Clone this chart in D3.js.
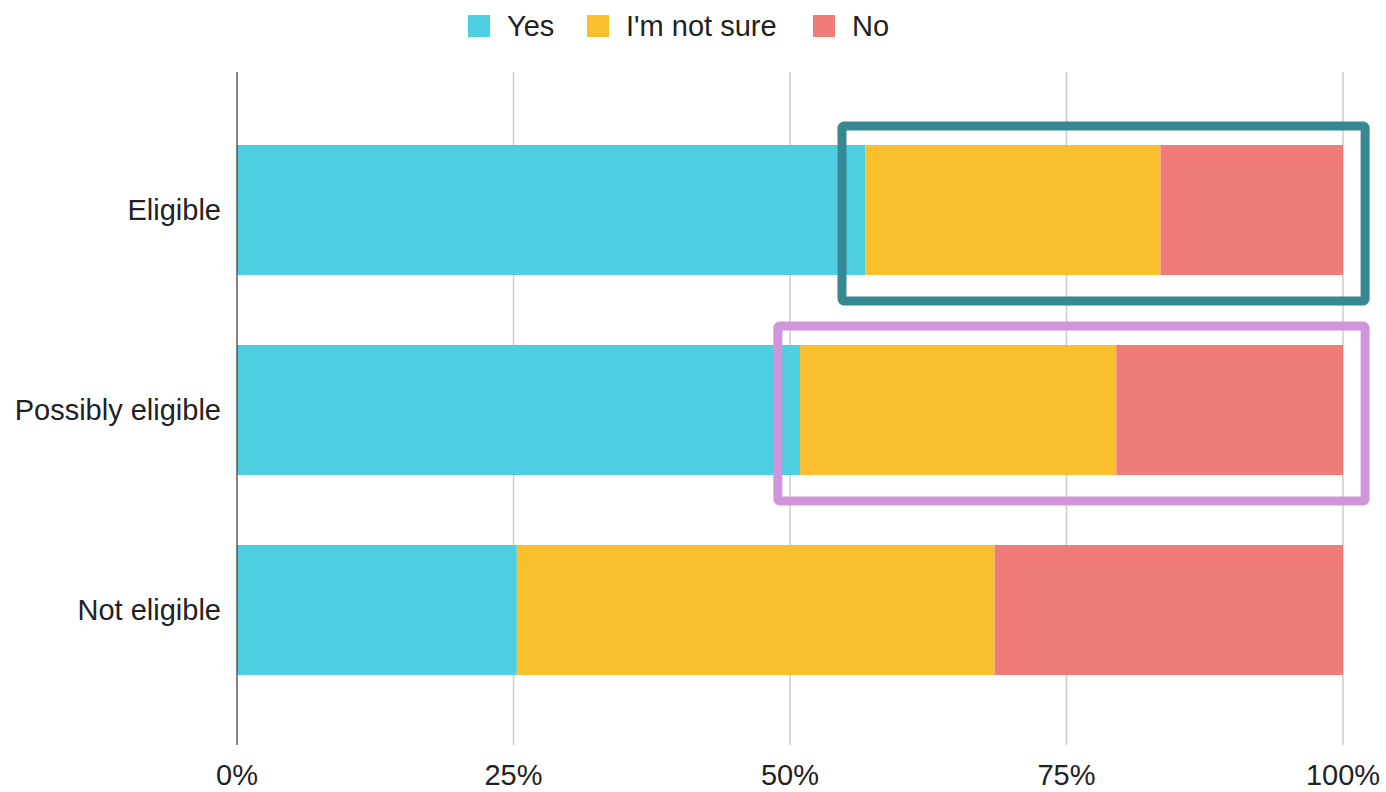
<!DOCTYPE html>
<html>
<head>
<meta charset="utf-8">
<script src="https://cdn.jsdelivr.net/npm/d3@7"></script>
<style>
  body { margin: 0; background: #fff; }
  svg text { font-family: "Liberation Sans", Arial, sans-serif; fill: #222; }
</style>
</head>
<body>
<svg width="1386" height="792"></svg>
<script>
// answer categories and their colours
var series = ["Yes", "I'm not sure", "No"];
var colors = ["#4dcfe1", "#f9bf2d", "#f07c7a"];

var categories = ["Eligible", "Possibly eligible", "Not eligible"];

// percent of respondents
var yesVals = [56.8, 50.9, 25.3];
var notSureVals = [26.7, 28.6, 43.2];
var noVals = [16.5, 20.5, 31.5];

var ticks = [0, 25, 50, 75, 100];

// highlight boxes drawn round two of the bars
var boxCats = ["Eligible", "Possibly eligible"];
var boxStart = [54.7, 48.9];
var boxColors = ["#368892", "#d095da"];

var svg = d3.select("svg");

var x = d3.scaleLinear().domain([0, 100]).range([237, 1343]);
var y = d3.scaleBand().domain(categories).range([110, 710])
    .paddingInner(0.35).paddingOuter(0.175);

// gridlines
svg.append("g").selectAll("line")
    .data(ticks.slice(1))
    .enter().append("line")
    .attr("x1", function(d) { return x(d); })
    .attr("x2", function(d) { return x(d); })
    .attr("y1", 72).attr("y2", 745)
    .attr("stroke", "#cccccc")
    .attr("stroke-width", 1.5);

// stacked bars
var rows = categories.map(function(c, i) {
    return { cat: c, "Yes": yesVals[i], "I'm not sure": notSureVals[i], "No": noVals[i] };
});
var stack = d3.stack().keys(series)(rows);

svg.append("g").selectAll("g")
    .data(stack)
    .enter().append("g")
    .attr("fill", function(d, i) { return colors[i]; })
    .selectAll("rect")
    .data(function(d) { return d; })
    .enter().append("rect")
    .attr("x", function(d) { return x(d[0]); })
    .attr("width", function(d) { return x(d[1]) - x(d[0]); })
    .attr("y", function(d) { return y(d.data.cat); })
    .attr("height", y.bandwidth());

// zero axis line
svg.append("line")
    .attr("x1", x(0)).attr("x2", x(0))
    .attr("y1", 72).attr("y2", 745)
    .attr("stroke", "#333").attr("stroke-width", 1.2);

// category labels
svg.append("g").selectAll("text")
    .data(categories)
    .enter().append("text")
    .attr("x", 221)
    .attr("y", function(d) { return y(d) + y.bandwidth() / 2; })
    .attr("dy", "0.35em")
    .attr("text-anchor", "end")
    .style("font-size", "29px")
    .text(function(d) { return d; });

// tick labels
svg.append("g").selectAll("text")
    .data(ticks)
    .enter().append("text")
    .attr("x", function(d) { return x(d); })
    .attr("y", 785)
    .attr("text-anchor", "middle")
    .style("font-size", "29px")
    .text(function(d) { return d + "%"; });

// highlight boxes
boxCats.forEach(function(c, i) {
    svg.append("rect")
        .attr("x", x(boxStart[i]))
        .attr("y", y(c) - 19)
        .attr("width", x(102) - x(boxStart[i]))
        .attr("height", y.bandwidth() + 45)
        .attr("rx", 2)
        .attr("fill", "none")
        .attr("stroke", boxColors[i])
        .attr("stroke-width", 9);
});

// legend
var legendX = [468, 587, 813];
var legend = svg.append("g").selectAll("g")
    .data(series)
    .enter().append("g")
    .attr("transform", function(d, i) { return "translate(" + legendX[i] + ",15)"; });
legend.append("rect")
    .attr("width", 22).attr("height", 22)
    .attr("fill", function(d, i) { return colors[i]; });
legend.append("text")
    .attr("x", 39).attr("y", 11)
    .attr("dy", "0.35em")
    .style("font-size", "29px")
    .text(function(d) { return d; });
</script>
</body>
</html>
